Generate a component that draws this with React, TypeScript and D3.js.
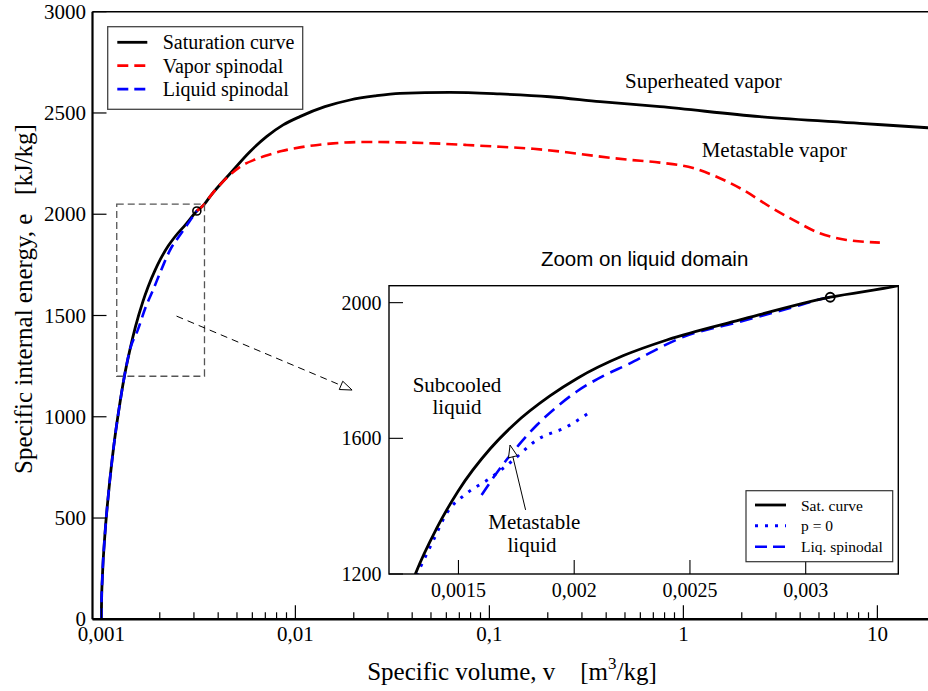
import React from "react";
import * as d3 from "d3";

// ---- Data (v in m3/kg, e in kJ/kg) ----
// Saturation curve, liquid branch (up to the critical point)
const satLiqV = [0.001, 0.001002, 0.001012, 0.001043, 0.001091, 0.001157, 0.001252, 0.001317, 0.001404, 0.001499, 0.001638, 0.00174, 0.001895, 0.002016, 0.002213, 0.0024, 0.002716, 0.003106];
const satLiqE = [0, 84, 209, 419, 632, 851, 1080, 1205, 1332, 1445, 1570, 1641, 1725, 1778, 1844, 1890, 1949, 2016];
// Saturation curve, vapor branch (after the critical point)
const satVapV = [0.0034, 0.00363, 0.0046, 0.00583, 0.0071, 0.00865, 0.01055, 0.01419, 0.0191, 0.0257, 0.0346, 0.0626, 0.1133, 0.205, 0.372, 0.757, 2.478, 8.125, 18.2, 40, 100];
const satVapE = [2050, 2087, 2200, 2309, 2383, 2441, 2482, 2531, 2564, 2584, 2597, 2602, 2594, 2580, 2556, 2531, 2482, 2449, 2427, 2410, 2395];

// Vapor spinodal
const vapSpV = [0.003106, 0.0034, 0.00363, 0.0046, 0.0052, 0.0062, 0.0071, 0.0085, 0.01055, 0.01566, 0.02328, 0.03457, 0.05132, 0.0763, 0.1133, 0.1683, 0.25, 0.3428, 0.5094, 0.7567, 1.123, 1.483, 2.033, 2.792, 3.682, 5.053, 6.937, 10.3];
const vapSpE = [2016, 2050, 2087, 2194, 2235, 2270, 2290, 2312, 2330, 2350, 2357, 2355, 2350, 2342, 2333, 2323, 2306, 2289, 2270, 2255, 2228, 2185, 2120, 2037, 1972, 1906, 1873, 1860];

// Liquid spinodal (main chart)
const liqSpV = [0.001, 0.001002, 0.001012, 0.001043, 0.001091, 0.001157, 0.001252, 0.001317, 0.001404, 0.00154, 0.001695, 0.001847, 0.002035, 0.002285, 0.00247, 0.00293, 0.00308, 0.003106];
const liqSpE = [0, 84, 209, 419, 632, 851, 1080, 1205, 1332, 1428, 1543, 1626, 1725, 1832, 1880, 1982, 2012, 2016];

// Liquid spinodal (inset)
const insetLiqSpV = [0.0016, 0.00168, 0.00176, 0.00184, 0.00192, 0.002011, 0.002126, 0.002241, 0.002327, 0.002457, 0.002716, 0.002932, 0.003083, 0.003106];
const insetLiqSpE = [1433, 1512, 1580, 1640, 1690, 1738, 1784, 1821, 1852, 1895, 1944, 1984, 2013, 2016];

// p = 0 curve (inset)
const p0V = [0.001318, 0.001392, 0.001449, 0.001536, 0.001636, 0.001737, 0.001838, 0.001968, 0.002061];
const p0E = [1195, 1300, 1379, 1438, 1482, 1536, 1595, 1634, 1674];

// Critical point
const critV = 0.003106;
const critE = 2016;

// Ticks
const xMajorTicks = [0.001, 0.01, 0.1, 1, 10];
const xMajorLabels = ["0,001", "0,01", "0,1", "1", "10"];
const yTicks = [0, 500, 1000, 1500, 2000, 2500, 3000];
const insetXTicks = [0.0015, 0.002, 0.0025, 0.003];
const insetXLabels = ["0,0015", "0,002", "0,0025", "0,003"];
const insetYTicks = [1200, 1600, 2000];

// Zoom window (data coords)
const zoomV = [0.0012, 0.0034];
const zoomE = [1200, 2050];

type P = [number, number];
const zip = (a: number[], b: number[]): P[] => a.map((v, i) => [v, b[i]] as P);

const SERIF = "'Liberation Serif', 'Times New Roman', serif";
const SANS = "'Liberation Sans', Arial, Helvetica, sans-serif";

function arrowHead(tx: number, ty: number, fx: number, fy: number, len = 12, half = 4.5) {
  const dx = tx - fx, dy = ty - fy;
  const L = Math.hypot(dx, dy);
  const ux = dx / L, uy = dy / L;
  const bx = tx - ux * len, by = ty - uy * len;
  const px = -uy, py = ux;
  return `${tx},${ty} ${bx + px * half},${by + py * half} ${bx - px * half},${by - py * half}`;
}

export default function App() {
  const W = 928, H = 691;
  const left = 92.5, top = 11.7, bottom = 619.3;
  const x = d3.scaleLog().domain([0.0009, 100]).range([left, left + Math.log10(100 / 0.0009) * 194]);
  const y = d3.scaleLinear().domain([0, 3000]).range([bottom, top]);

  const xi = d3.scaleLinear().domain(zoomV).range([389, 898.3]);
  const yi = d3.scaleLinear().domain(zoomE).range([574, 285.7]);

  const mainLine = d3.line<P>().x((d) => x(d[0])).y((d) => y(d[1])).curve(d3.curveMonotoneX);
  const insetLine = d3.line<P>().x((d) => xi(d[0])).y((d) => yi(d[1])).curve(d3.curveMonotoneX);

  const satPts = zip(satLiqV, satLiqE).concat(zip(satVapV, satVapE));

  const minorTicks: number[] = [];
  xMajorTicks.forEach((d) => {
    for (let k = 2; k <= 9; k++) minorTicks.push(d * k);
  });

  // dashed zoom arrow (data coordinates in main chart)
  const arrFrom: P = [0.00244, 1497];
  const arrTo: P = [0.0196, 1132];
  const a1x = x(arrFrom[0]), a1y = y(arrFrom[1]), a2x = x(arrTo[0]), a2y = y(arrTo[1]);

  // inset arrow (data coordinates in inset)
  const iaFrom: P = [0.00179, 1389];
  const iaTo: P = [0.001723, 1580];
  const b1x = xi(iaFrom[0]), b1y = yi(iaFrom[1]), b2x = xi(iaTo[0]), b2y = yi(iaTo[1]);

  const legendMain = [
    { label: "Saturation curve", color: "#000", dash: "none" },
    { label: "Vapor spinodal", color: "#ff0000", dash: "11,6" },
    { label: "Liquid spinodal", color: "#0000ff", dash: "11,6" },
  ];
  const legendInset = [
    { label: "Sat. curve", color: "#000", dash: "none", w: 2.8 },
    { label: "p = 0", color: "#0000ff", dash: "3,7", w: 3 },
    { label: "Liq. spinodal", color: "#0000ff", dash: "12,6", w: 2.6 },
  ];

  return (
    <svg
      width={W}
      height={H}
      viewBox={`0 0 ${W} ${H}`}
      style={{ position: "absolute", left: 0, top: 0, background: "#fff" }}
    >
      <defs>
        <clipPath id="mainClip">
          <rect x={left} y={top} width={W - left} height={bottom - top} />
        </clipPath>
        <clipPath id="insetClip">
          <rect x={xi(zoomV[0])} y={yi(zoomE[1])} width={xi(zoomV[1]) - xi(zoomV[0])} height={yi(zoomE[0]) - yi(zoomE[1])} />
        </clipPath>
      </defs>
      <rect x={0} y={0} width={W} height={H} fill="#fff" />

      {/* main curves */}
      <g clipPath="url(#mainClip)" fill="none">
        <path d={mainLine(satPts) || ""} stroke="#000" strokeWidth={2.8} />
        <path d={mainLine(zip(vapSpV, vapSpE)) || ""} stroke="#ff0000" strokeWidth={2.6} strokeDasharray="11,6" />
        <path d={mainLine(zip(liqSpV, liqSpE)) || ""} stroke="#0000ff" strokeWidth={2.6} strokeDasharray="11,6" />
        <circle cx={x(critV)} cy={y(critE)} r={4} stroke="#000" strokeWidth={1.6} fill="none" />
      </g>

      {/* zoom window and arrow */}
      <rect
        x={x(zoomV[0])}
        y={y(zoomE[1])}
        width={x(zoomV[1]) - x(zoomV[0])}
        height={y(zoomE[0]) - y(zoomE[1])}
        fill="none"
        stroke="#555"
        strokeWidth={1.3}
        strokeDasharray="7,4"
      />
      <line x1={a1x} y1={a1y} x2={a2x} y2={a2y} stroke="#000" strokeWidth={1} strokeDasharray="7,5" />
      <polygon points={arrowHead(a2x, a2y, a1x, a1y)} fill="#fff" stroke="#000" strokeWidth={1} />

      {/* axes frame */}
      <line x1={left} y1={top} x2={W} y2={top} stroke="#000" strokeWidth={1.6} />
      <line x1={left} y1={top} x2={left} y2={bottom} stroke="#000" strokeWidth={2.2} />
      <line x1={left} y1={bottom} x2={W} y2={bottom} stroke="#000" strokeWidth={2.6} />

      {/* x ticks */}
      {xMajorTicks.map((t, i) => (
        <g key={"xm" + i}>
          <line x1={x(t)} x2={x(t)} y1={bottom} y2={bottom - 14} stroke="#000" strokeWidth={1.2} />
          <text x={x(t)} y={641} textAnchor="middle" fontFamily={SERIF} fontSize={21}>
            {xMajorLabels[i]}
          </text>
        </g>
      ))}
      {minorTicks
        .filter((t) => x(t) < W)
        .map((t, i) => (
          <line key={"xn" + i} x1={x(t)} x2={x(t)} y1={bottom} y2={bottom - 7} stroke="#000" strokeWidth={1.2} />
        ))}

      {/* y ticks */}
      {yTicks.map((t, i) => (
        <g key={"y" + i}>
          <line x1={left} x2={left + 14} y1={y(t)} y2={y(t)} stroke="#000" strokeWidth={1.2} />
          <text x={86} y={y(t) + 7} textAnchor="end" fontFamily={SERIF} fontSize={21}>
            {t}
          </text>
        </g>
      ))}

      {/* axis titles */}
      <text x={512} y={680} textAnchor="middle" fontFamily={SERIF} fontSize={25}>
        {"Specific volume, v\u00A0\u00A0\u00A0\u00A0[m"}
        <tspan dy={-11} fontSize={17}>3</tspan>
        <tspan dy={11}>/kg]</tspan>
      </text>
      <text
        transform="translate(32,299) rotate(-90)"
        textAnchor="middle"
        fontFamily={SERIF}
        fontSize={25}
      >
        {"Specific internal energy, e\u00A0\u00A0\u00A0[kJ/kg]"}
      </text>

      {/* main legend */}
      <rect x={107.7} y={26.7} width={195} height={82.6} fill="#fff" stroke="#444" strokeWidth={1.3} />
      {legendMain.map((l, i) => (
        <g key={"lm" + i}>
          <line
            x1={117.3}
            x2={147.3}
            y1={42.3 + i * 23.4}
            y2={42.3 + i * 23.4}
            stroke={l.color}
            strokeWidth={2.8}
            strokeDasharray={l.dash}
          />
          <text x={162.7} y={42.3 + i * 23.4 + 6.8} fontFamily={SERIF} fontSize={20}>
            {l.label}
          </text>
        </g>
      ))}

      {/* annotations */}
      <text x={625} y={88.3} fontFamily={SERIF} fontSize={21}>Superheated vapor</text>
      <text x={701.7} y={156.7} fontFamily={SERIF} fontSize={21}>Metastable vapor</text>

      {/* ---- inset ---- */}
      <text x={644.6} y={266} textAnchor="middle" fontFamily={SANS} fontSize={20.5}>
        Zoom on liquid domain
      </text>
      <rect
        x={xi(zoomV[0])}
        y={yi(zoomE[1])}
        width={xi(zoomV[1]) - xi(zoomV[0])}
        height={yi(zoomE[0]) - yi(zoomE[1])}
        fill="#fff"
        stroke="none"
      />
      <g clipPath="url(#insetClip)" fill="none">
        <path d={insetLine(zip(p0V, p0E)) || ""} stroke="#0000ff" strokeWidth={3} strokeDasharray="3,7" />
        <path d={insetLine(zip(insetLiqSpV, insetLiqSpE)) || ""} stroke="#0000ff" strokeWidth={2.6} strokeDasharray="13,7" />
        <path d={insetLine(satPts) || ""} stroke="#000" strokeWidth={2.8} />
        <circle cx={xi(critV)} cy={yi(critE)} r={4.5} stroke="#000" strokeWidth={1.8} fill="none" />
      </g>
      <rect
        x={xi(zoomV[0])}
        y={yi(zoomE[1])}
        width={xi(zoomV[1]) - xi(zoomV[0])}
        height={yi(zoomE[0]) - yi(zoomE[1])}
        fill="none"
        stroke="#000"
        strokeWidth={1.4}
      />
      {insetXTicks.map((t, i) => (
        <g key={"ix" + i}>
          <line x1={xi(t)} x2={xi(t)} y1={yi(zoomE[0])} y2={yi(zoomE[0]) - 14} stroke="#000" strokeWidth={1.1} />
          <text x={xi(t)} y={597} textAnchor="middle" fontFamily={SERIF} fontSize={20}>
            {insetXLabels[i]}
          </text>
        </g>
      ))}
      {insetYTicks.map((t, i) => (
        <g key={"iy" + i}>
          <line x1={xi(zoomV[0])} x2={xi(zoomV[0]) + 14} y1={yi(t)} y2={yi(t)} stroke="#000" strokeWidth={1.1} />
          <text x={381.5} y={yi(t) + 7} textAnchor="end" fontFamily={SERIF} fontSize={20}>
            {t}
          </text>
        </g>
      ))}

      {/* inset labels */}
      <text textAnchor="middle" fontFamily={SERIF} fontSize={21}>
        <tspan x={457} y={391.7}>Subcooled</tspan>
        <tspan x={457} y={413.5}>liquid</tspan>
      </text>
      <text textAnchor="middle" fontFamily={SERIF} fontSize={21}>
        <tspan x={534.3} y={529.3}>Metastable</tspan>
        <tspan x={532} y={551.5}>liquid</tspan>
      </text>
      <line x1={b1x} y1={b1y} x2={b2x} y2={b2y} stroke="#000" strokeWidth={1} />
      <polygon points={arrowHead(b2x, b2y, b1x, b1y, 12, 4.5)} fill="#fff" stroke="#000" strokeWidth={1} />

      {/* inset legend */}
      <rect x={746} y={490.7} width={146.7} height={71} fill="#fff" stroke="#333" strokeWidth={1.2} />
      {legendInset.map((l, i) => {
        const ly = [505, 525.7, 546.7][i];
        return (
          <g key={"li" + i}>
            <line x1={755} x2={786} y1={ly} y2={ly} stroke={l.color} strokeWidth={l.w} strokeDasharray={l.dash} />
            <text x={801} y={ly + 5.5} fontFamily={SERIF} fontSize={15.5}>
              {l.label}
            </text>
          </g>
        );
      })}
    </svg>
  );
}
